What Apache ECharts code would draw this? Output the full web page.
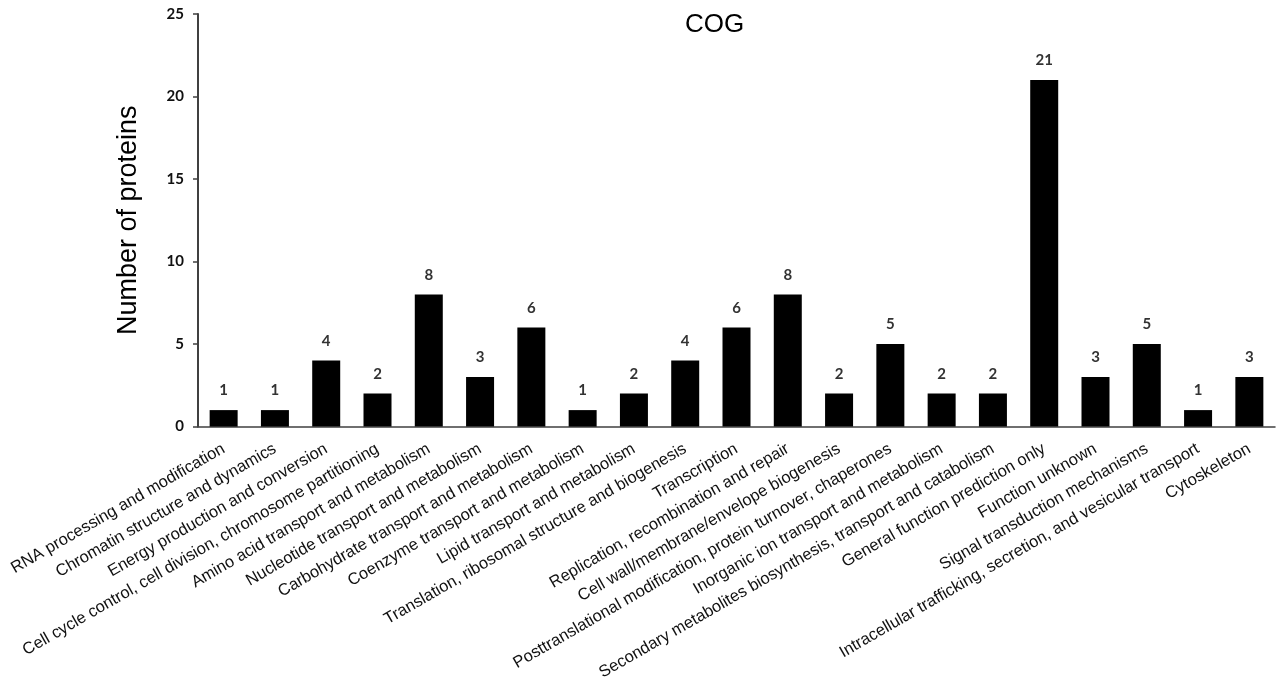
<!DOCTYPE html>
<html>
<head>
<meta charset="utf-8">
<script src="https://cdn.jsdelivr.net/npm/echarts@6/dist/echarts.min.js"></script>
<style>
html,body{margin:0;padding:0;background:#fff;}
#chart{width:1278px;height:683px;}
</style>
</head>
<body>
<div id="chart"></div>
<script>
const categories = [
  "RNA processing and modification",
  "Chromatin structure and dynamics",
  "Energy production and conversion",
  "Cell cycle control, cell division, chromosome partitioning",
  "Amino acid transport and metabolism",
  "Nucleotide transport and metabolism",
  "Carbohydrate transport and metabolism",
  "Coenzyme transport and metabolism",
  "Lipid transport and metabolism",
  "Translation, ribosomal structure and biogenesis",
  "Transcription",
  "Replication, recombination and repair",
  "Cell wall/membrane/envelope biogenesis",
  "Posttranslational modification, protein turnover, chaperones",
  "Inorganic ion transport and metabolism",
  "Secondary metabolites biosynthesis, transport and catabolism",
  "General function prediction only",
  "Function unknown",
  "Signal transduction mechanisms",
  "Intracellular trafficking, secretion, and vesicular transport",
  "Cytoskeleton"
];
const proteinCounts = [1, 1, 4, 2, 8, 3, 6, 1, 2, 4, 6, 8, 2, 5, 2, 2, 21, 3, 5, 1, 3];
const yTicks = [0, 5, 10, 15, 20, 25];
const titleText = "COG";
const yAxisTitle = "Number of proteins";

const chart = echarts.init(document.getElementById('chart'));
chart.setOption({
  animation: false,
  backgroundColor: '#ffffff',
  title: {
    text: titleText,
    left: 680,
    top: 7,
    textStyle: {fontFamily: 'Liberation Sans', fontSize: 26, fontWeight: 'normal', color: '#000'}
  },
  grid: {left: 198, right: 3, top: 14, bottom: 256, containLabel: false},
  xAxis: {
    type: 'category',
    data: categories,
    axisLine: {show: true, lineStyle: {color: '#404040', width: 1.5}},
    axisTick: {show: false},
    axisLabel: {
      interval: 0,
      rotate: 30,
      margin: 21,
      fontFamily: 'Liberation Sans',
      fontSize: 16.5,
      color: '#111'
    }
  },
  yAxis: {
    type: 'value',
    min: yTicks[0],
    max: yTicks[yTicks.length - 1],
    interval: 5,
    name: yAxisTitle,
    nameLocation: 'middle',
    nameGap: 56,
    nameTextStyle: {fontFamily: 'Liberation Sans', fontSize: 27, color: '#000'},
    axisLine: {show: true, lineStyle: {color: '#404040', width: 2}},
    axisTick: {show: true, inside: false, length: 5, lineStyle: {color: '#404040', width: 1.5}},
    splitLine: {show: false},
    axisLabel: {
      margin: 14,
      fontFamily: 'Lato',
      fontWeight: 'bold',
      fontSize: 15,
      color: '#111'
    }
  },
  series: [{
    type: 'bar',
    data: proteinCounts,
    barWidth: 28,
    itemStyle: {color: '#000'},
    label: {
      show: true,
      position: 'top',
      distance: 12,
      fontFamily: 'Lato',
      fontWeight: 'bold',
      fontSize: 15,
      color: '#333'
    }
  }]
});
</script>
</body>
</html>
